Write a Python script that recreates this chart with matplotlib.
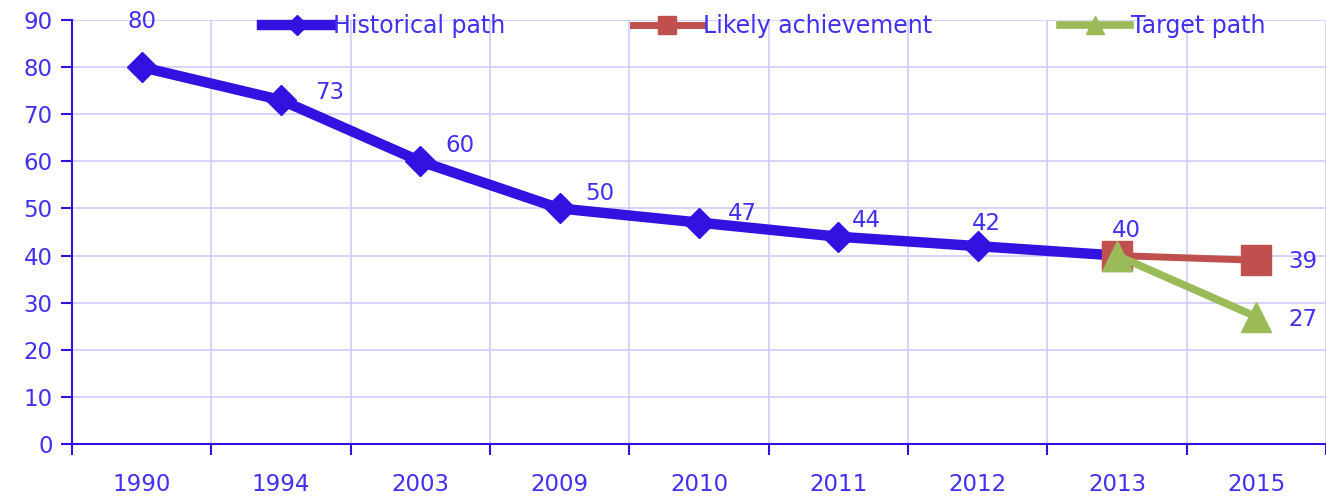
import matplotlib.pyplot as plt
import numpy as np

years = ["1990", "1994", "2003", "2009", "2010", "2011", "2012", "2013", "2015"]
historical = [80, 73, 60, 50, 47, 44, 42, 40]
likely = [40, 39]
target = [40, 27]

BLUE = "#3311e0"
TEXT = "#4030f0"
RED = "#c0504d"
GREEN = "#9bbb59"
GRID = "#d0ccff"
FS = 16.5

plt.rcParams["font.family"] = "DejaVu Sans"

fig = plt.figure(figsize=(13.26, 4.99), dpi=100)
ax = fig.add_axes([72 / 1326, 1 - 444 / 499, 1 - 72 / 1326, (444 - 20) / 499])

x = np.arange(len(years))
ax.plot(x[:8], historical, color=BLUE, lw=7.5, marker="D", ms=15,
        solid_joinstyle="round", label="Historical path", zorder=3)
ax.plot(x[7:], likely, color=RED, lw=5, marker="s", ms=21,
        label="Likely achievement", zorder=4)
ax.plot(x[7:], target, color=GREEN, lw=5.5, marker="^", ms=21,
        label="Target path", zorder=5)

# data labels (offsets in pixels)
hist_off = [(0, 46), (49, 8), (40, 16), (40, 15), (43, 9), (28, 16), (9, 23), (9, 25)]
for xi, v, off in zip(x[:8], historical, hist_off):
    ax.annotate(str(v), (xi, v), xytext=off, textcoords="offset pixels",
                ha="center", va="center", color=TEXT, fontsize=FS, zorder=6)
ax.annotate(str(likely[1]), (x[8], likely[1]), xytext=(47, -1), textcoords="offset pixels",
            ha="center", va="center", color=TEXT, fontsize=FS)
ax.annotate(str(target[1]), (x[8], target[1]), xytext=(47, -3), textcoords="offset pixels",
            ha="center", va="center", color=TEXT, fontsize=FS)

ax.set_xlim(-0.5, len(years) - 0.5)
ax.set_ylim(0, 90)
ax.set_yticks(range(0, 91, 10))
ax.set_xticks(x)
ax.set_xticklabels(years)
ax.set_xticks(np.arange(-0.5, len(years), 1), minor=True)

ax.tick_params(axis="x", which="major", length=0, pad=21, labelsize=FS, labelcolor=TEXT)
ax.tick_params(axis="x", which="minor", length=8, width=1.5, color=BLUE, direction="out")
ax.tick_params(axis="y", length=8, width=1.5, pad=6, color=BLUE, labelsize=FS, labelcolor=TEXT)

ax.grid(True, axis="y", color=GRID, lw=1.2)
ax.grid(True, axis="x", which="minor", color=GRID, lw=1.2)
ax.set_axisbelow(True)

for s in ["top", "right"]:
    ax.spines[s].set_visible(False)
for s in ["left", "bottom"]:
    ax.spines[s].set_color(BLUE)
    ax.spines[s].set_linewidth(1.5)

leg = fig.legend(*ax.get_legend_handles_labels(), loc="center left",
                 bbox_to_anchor=(262 / 1326, 1 - 26 / 499), ncol=3, frameon=False,
                 fontsize=17, handlelength=2.95, handletextpad=0.05, columnspacing=5.4,
                 borderpad=0, borderaxespad=0, markerscale=0.65)
for t in leg.get_texts():
    t.set_color(TEXT)

fig.savefig("out.png", dpi=100)
